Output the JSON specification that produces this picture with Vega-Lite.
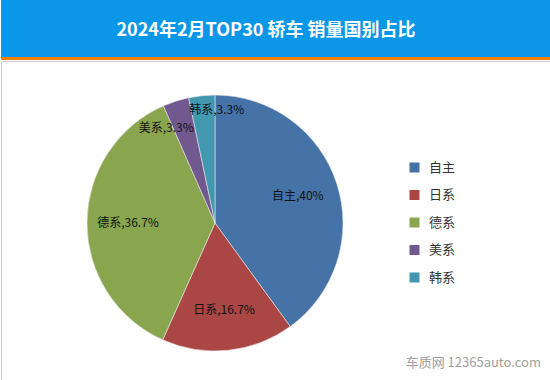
{
  "$schema": "https://vega.github.io/schema/vega-lite/v6.json",
  "padding": 0,
  "background": "white",
  "spacing": 0,
  "config": {"view": {"stroke": null}, "font": "Noto Sans CJK SC"},
  "vconcat": [
    {
      "width": 550,
      "height": 57,
      "view": {"fill": "#0b97e7", "stroke": null},
      "data": {"values": [{"t": "2024年2月TOP30 轿车 销量国别占比"}]},
      "mark": {"type": "text", "color": "white", "fontSize": 18, "fontWeight": "bold", "font": "Noto Sans CJK SC", "baseline": "middle", "dy": 2, "dx": -10},
      "encoding": {"text": {"field": "t"}}
    },
    {
      "width": 550,
      "height": 3,
      "view": {"fill": "#f07f00", "stroke": null},
      "data": {"values": [{"t": "line"}]},
      "mark": {"type": "rect", "color": "#f07f00"}
    },
    {
      "width": 550,
      "height": 320,
      "view": {"fill": "white", "stroke": "#d0d0d0"},
      "title": {"text": "车质网 12365auto.com", "orient": "bottom", "anchor": "end", "offset": -24, "dx": -10, "fontSize": 13, "fontWeight": "normal", "color": "#a0a0a0"},
      "data": {"values": [
        {"region": "自主", "share": 40, "label": "自主,40%", "idx": 1},
        {"region": "日系", "share": 16.7, "label": "日系,16.7%", "idx": 2},
        {"region": "德系", "share": 36.7, "label": "德系,36.7%", "idx": 3},
        {"region": "美系", "share": 3.3, "label": "美系,3.3%", "idx": 4},
        {"region": "韩系", "share": 3.3, "label": "韩系,3.3%", "idx": 5}
      ]},
      "encoding": {
        "theta": {"field": "share", "type": "quantitative", "stack": true},
        "order": {"field": "idx", "type": "quantitative"}
      },
      "layer": [
        {
          "mark": {"type": "arc", "radius": 128, "stroke": "#e8e8e8", "strokeWidth": 0.6, "xOffset": -61, "yOffset": 2},
          "encoding": {
            "color": {
              "field": "region", "type": "nominal",
              "scale": {"domain": ["自主", "日系", "德系", "美系", "韩系"], "range": ["#4572a7", "#aa4643", "#89a54e", "#71588f", "#4198af"]},
              "legend": {
                "title": null, "orient": "none", "legendX": 407, "legendY": 161, "padding": 0,
                "symbolType": "square", "symbolSize": 100, "symbolStrokeWidth": 0,
                "labelFontSize": 13, "labelColor": "#333333", "labelOffset": 8, "rowPadding": 13.5,
                "labelFont": "Noto Sans CJK SC"
              }
            }
          }
        },
        {
          "mark": {"type": "text", "radius": 87, "fontSize": 12, "color": "#111111", "xOffset": -61, "yOffset": 2},
          "encoding": {
            "text": {"condition": {"test": "datum.idx <= 3", "field": "label"}, "value": ""}
          }
        },
        {
          "mark": {"type": "text", "radius": 107, "thetaOffset": -0.162, "fontSize": 12, "color": "#111111", "xOffset": -61, "yOffset": 2},
          "encoding": {
            "text": {"condition": {"test": "datum.region === '美系'", "field": "label"}, "value": ""}
          }
        },
        {
          "mark": {"type": "text", "radius": 113, "thetaOffset": 0.119, "fontSize": 12, "color": "#111111", "xOffset": -61, "yOffset": 2},
          "encoding": {
            "text": {"condition": {"test": "datum.region === '韩系'", "field": "label"}, "value": ""}
          }
        }
      ]
    }
  ]
}
